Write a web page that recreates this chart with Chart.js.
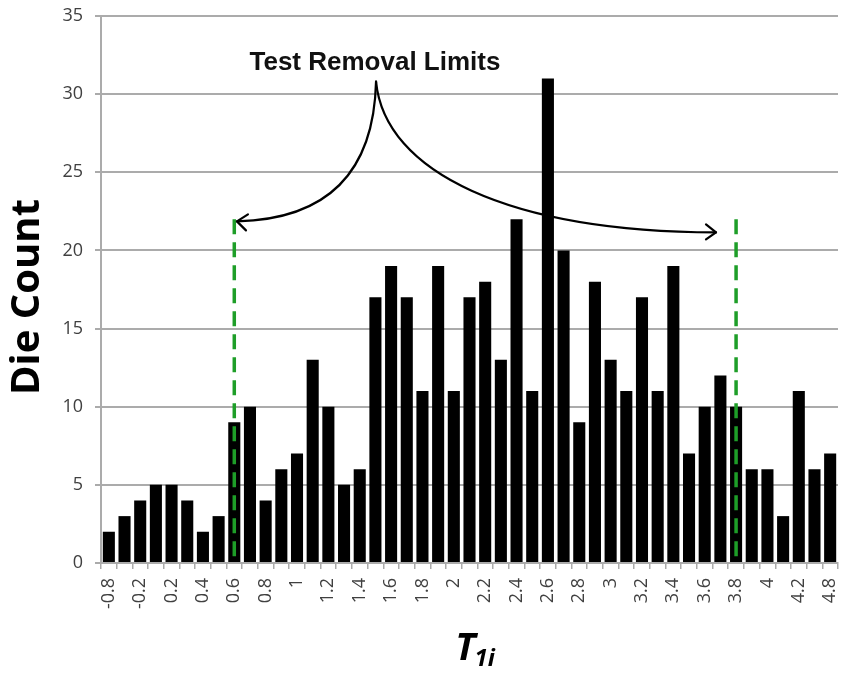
<!DOCTYPE html>
<html>
<head>
<meta charset="utf-8">
<script src="https://cdn.jsdelivr.net/npm/chart.js@4"></script>
<style>
  html, body { margin: 0; padding: 0; background: #ffffff; }
  #wrap { width: 842px; height: 675px; position: relative; }
</style>
</head>
<body>
<div id="wrap"><canvas id="c" width="842" height="675"></canvas></div>
<script>
// ---- data ----
const categories = ['-0.8','-0.5','-0.2','0','0.2','0.3','0.4','0.5','0.6','0.7',
  '0.8','0.9','1','1.1','1.2','1.3','1.4','1.5','1.6','1.7',
  '1.8','1.9','2','2.1','2.2','2.3','2.4','2.5','2.6','2.7',
  '2.8','2.9','3','3.1','3.2','3.3','3.4','3.5','3.6','3.7',
  '3.8','3.9','4','4.1','4.2','4.5','4.8'];
const dieCount = [2,3,4,5,5,4,2,3,9,10,
  4,6,7,13,10,5,6,17,19,17,
  11,19,11,17,18,13,22,11,31,20,
  9,18,13,11,17,11,19,7,10,12,
  10,6,6,3,11,6,7];
const yTicks = [0,5,10,15,20,25,30,35];
const limitCategories = ['0.6','3.8'];
const limitTop = 22;
const annotationText = 'Test Removal Limits';
const yTitle = 'Die Count';

const GRID = '#ababab';

const overlay = {
  id: 'overlay',
  afterDatasetsDraw(chart) {
    const ctx = chart.ctx;
    const xs = chart.scales.x, ys = chart.scales.y;
    const px = (i) => xs.getPixelForValue(i);
    const py = (v) => ys.getPixelForValue(v);

    // green dashed limit lines
    ctx.save();
    ctx.strokeStyle = '#1e9e28';
    ctx.lineWidth = 3.5;
    ctx.setLineDash([15, 8]);
    limitCategories.forEach(c => {
      const i = categories.indexOf(c);
      ctx.beginPath();
      ctx.moveTo(px(i), py(limitTop));
      ctx.lineTo(px(i), py(0));
      ctx.stroke();
    });
    ctx.restore();

    // curved arrows (data coordinates: category index, value)
    const apex = [px(17.04), py(30.8)];
    const lTip = [px(8.17), py(21.86)];
    const rTip = [px(38.72), py(21.15)];
    ctx.save();
    ctx.strokeStyle = '#000';
    ctx.lineWidth = 2.2;
    ctx.lineCap = 'round';
    ctx.lineJoin = 'round';
    ctx.beginPath();
    ctx.moveTo(apex[0], apex[1]);
    ctx.bezierCurveTo(px(16.9), py(25.0), px(14.0), py(22.0), lTip[0], lTip[1]);
    ctx.stroke();
    ctx.beginPath();
    ctx.moveTo(apex[0], apex[1]);
    ctx.bezierCurveTo(px(17.6), py(25.0), px(25.5), py(21.2), rTip[0], rTip[1]);
    ctx.stroke();
    // arrow heads
    ctx.beginPath();
    ctx.moveTo(lTip[0] + 11, lTip[1] - 7);
    ctx.lineTo(lTip[0], lTip[1]);
    ctx.lineTo(lTip[0] + 9, lTip[1] + 9);
    ctx.stroke();
    ctx.beginPath();
    ctx.moveTo(rTip[0] - 10, rTip[1] - 8);
    ctx.lineTo(rTip[0], rTip[1]);
    ctx.lineTo(rTip[0] - 10, rTip[1] + 7);
    ctx.stroke();
    ctx.restore();

    // annotation text
    ctx.save();
    ctx.fillStyle = '#111';
    ctx.font = 'bold 26px "Liberation Sans", Arial, sans-serif';
    ctx.textAlign = 'center';
    ctx.textBaseline = 'middle';
    ctx.fillText(annotationText, px(16.97), py(32.0));
    ctx.restore();

    // y title
    ctx.save();
    ctx.fillStyle = '#000';
    ctx.font = 'bold 40px "Open Sans", sans-serif';
    ctx.textAlign = 'center';
    ctx.textBaseline = 'middle';
    ctx.translate(28, 297);
    ctx.rotate(-Math.PI / 2);
    ctx.fillText(yTitle, 0, 0);
    ctx.restore();

    // x title  T_1i
    ctx.save();
    ctx.fillStyle = '#000';
    ctx.textBaseline = 'alphabetic';
    ctx.font = 'italic bold 38px "Open Sans", sans-serif';
    const tW = ctx.measureText('T').width;
    ctx.font = 'italic bold 24px "Open Sans", sans-serif';
    const sW = ctx.measureText('1i').width;
    const cx = (xs.left + xs.right) / 2 + 6;
    const x0 = cx - (tW + sW) / 2;
    ctx.font = 'italic bold 38px "Open Sans", sans-serif';
    ctx.fillText('T', x0, 660);
    ctx.font = 'italic bold 24px "Open Sans", sans-serif';
    ctx.fillText('1i', x0 + tW - 1, 666);
    ctx.restore();
  }
};

new Chart(document.getElementById('c'), {
  type: 'bar',
  data: {
    labels: categories,
    datasets: [{
      data: dieCount,
      backgroundColor: '#000000',
      borderWidth: 0,
      barPercentage: 0.77,
      categoryPercentage: 1.0
    }]
  },
  options: {
    responsive: false,
    animation: false,
    devicePixelRatio: 1,
    layout: { padding: { left: 0, right: 4, top: 16, bottom: 0 } },
    plugins: { legend: { display: false }, tooltip: { enabled: false }, title: { display: false } },
    scales: {
      x: {
        type: 'category',
        offset: true,
        grid: { display: true, drawOnChartArea: false, drawTicks: true, tickLength: 6, color: GRID, lineWidth: 1.5, offset: true },
        border: { display: true, color: GRID, width: 2 },
        ticks: {
          autoSkip: false,
          minRotation: 90,
          maxRotation: 90,
          padding: 9,
          color: '#404040',
          font: { family: '"Open Sans", sans-serif', size: 18 },
          callback: function(value, index) { return index % 2 === 0 ? categories[index] : ''; }
        },
        afterFit(scale) { scale.height = 112; scale.paddingLeft = 0; scale.paddingRight = 0; }
      },
      y: {
        min: 0,
        max: 35,
        afterBuildTicks(scale) { scale.ticks = yTicks.map(v => ({ value: v })); },
        grid: { color: GRID, lineWidth: 2, drawTicks: true, tickLength: 6 },
        border: { display: true, color: GRID, width: 2 },
        ticks: {
          padding: 12,
          color: '#404040',
          font: { family: '"Open Sans", sans-serif', size: 18 }
        },
        afterFit(scale) { scale.width = 101; scale.paddingTop = 0; scale.paddingBottom = 0; }
      }
    }
  },
  plugins: [overlay]
});
</script>
</body>
</html>
